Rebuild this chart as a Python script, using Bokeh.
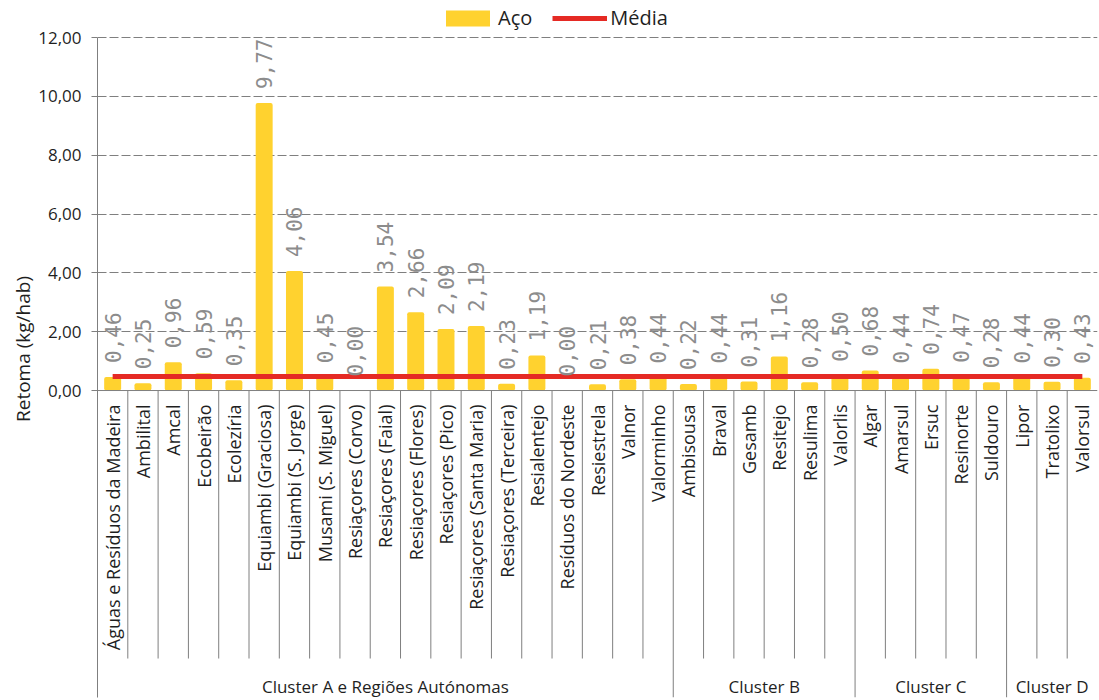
import numpy as np
from bokeh.plotting import figure
from bokeh.models import (Range1d, FixedTicker, CustomJSTickFormatter, Span, LinearAxis,
                          Legend, LegendItem, ColumnDataSource)
from bokeh.core.properties import value
from bokeh.embed import file_html
from bokeh.resources import INLINE

# ---------------- data ----------------
categories = [
    "Águas e Resíduos da Madeira", "Ambilital", "Amcal", "Ecobeirão", "Ecolezíria",
    "Equiambi (Graciosa)", "Equiambi (S. Jorge)", "Musami (S. Miguel)", "Resiaçores (Corvo)",
    "Resiaçores (Faial)", "Resiaçores (Flores)", "Resiaçores (Pico)", "Resiaçores (Santa Maria)",
    "Resiaçores (Terceira)", "Resialentejo", "Resíduos do Nordeste", "Resiestrela", "Valnor",
    "Valorminho",
    "Ambisousa", "Braval", "Gesamb", "Resitejo", "Resulima", "Valorlis",
    "Algar", "Amarsul", "Ersuc", "Resinorte", "Suldouro",
    "Lipor", "Tratolixo", "Valorsul",
]
aco = [
    0.46, 0.25, 0.96, 0.59, 0.35, 9.77, 4.06, 0.45, 0.00, 3.54, 2.66, 2.09, 2.19, 0.23,
    1.19, 0.00, 0.21, 0.38, 0.44,
    0.22, 0.44, 0.31, 1.16, 0.28, 0.50,
    0.68, 0.44, 0.74, 0.47, 0.28,
    0.44, 0.30, 0.43,
]
clusters = ["Cluster A e Regiões Autónomas", "Cluster B", "Cluster C", "Cluster D"]
cluster_sizes = [19, 6, 5, 3]
media = 0.48
y_ticks = [0, 2, 4, 6, 8, 10, 12]

# ---------------- layout helpers ----------------
n = len(categories)
xc = np.arange(n) + 0.5
Y_MAX = 13.258
Y_MIN = -10.435
SEP_END = -9.11
CLUSTER_Y = -10.06

FONT = value("Open Sans")
DARK = "#1f1f1f"
GRAY = "#7f7f7f"

p = figure(width=1099, height=700, output_backend="svg", toolbar_location=None,
           x_range=Range1d(0, n), y_range=Range1d(Y_MIN, Y_MAX),
           x_axis_location=None,
           min_border_left=97, min_border_right=2, min_border_top=0, min_border_bottom=3)
p.outline_line_color = None
p.background_fill_color = "white"

# y axis
ya = p.yaxis[0]
ya.ticker = FixedTicker(ticks=y_ticks)
ya.bounds = (Y_MIN, 12)
ya.formatter = CustomJSTickFormatter(code="return tick.toFixed(2).replace('.', ',');")
ya.axis_line_color = GRAY
ya.major_tick_line_color = GRAY
ya.major_tick_out = 6
ya.major_tick_in = 0
ya.minor_tick_line_color = None
ya.major_label_text_font = "Open Sans"
ya.major_label_text_font_size = "17px"
ya.major_label_text_color = DARK
ya.major_label_standoff = 10

# axis title on a label-only axis
title_axis = LinearAxis(ticker=FixedTicker(ticks=[]), bounds=(0, 8.7),
                        axis_label="Retoma (kg/hab)", axis_line_color=None,
                        major_tick_line_color=None, minor_tick_line_color=None,
                        major_label_text_font_size="0px",
                        axis_label_text_font="Open Sans", axis_label_text_font_size="19px",
                        axis_label_text_font_style="normal", axis_label_text_color=DARK,
                        axis_label_standoff=0)
p.add_layout(title_axis, "left")

# grid
p.xgrid.visible = False
p.ygrid.ticker = FixedTicker(ticks=[t for t in y_ticks if t > 0])
p.ygrid.grid_line_color = GRAY
p.ygrid.grid_line_dash = "9 3"
p.ygrid.grid_line_width = 1

# baseline
p.add_layout(Span(location=0, dimension="width", line_color=GRAY, line_width=1))

# bars
src = ColumnDataSource(dict(x=xc, top=aco, cat=categories,
                            lab=[f"{v:.2f}".replace(".", ",") for v in aco]))
bars = p.vbar(x="x", top="top", width=0.56, source=src, fill_color="#FFD22F",
              line_color=None, border_radius=2)

# average line
ml = p.line(x=xc, y=[media] * n, line_color="#E52A24", line_width=5)

# value labels
p.text(x="x", y="top", text="lab", source=src, angle=np.pi / 2, text_align="left",
       text_baseline="middle", y_offset=-14, text_font=value("DejaVu Sans Mono"),
       text_font_size="21px", text_color="#8c8c8c")

# category labels
p.text(x="x", y=0, text="cat", source=src, angle=np.pi / 2, text_align="right",
       text_baseline="middle", y_offset=14, text_font=FONT, text_font_size="18px",
       text_color=DARK)

# separators
bounds = np.cumsum(cluster_sizes)
cluster_bounds = set(bounds[:-1].tolist())
inner = [b for b in range(1, n) if b not in cluster_bounds]
p.segment(x0=inner, y0=[0] * len(inner), x1=inner, y1=[SEP_END] * len(inner),
          line_color=GRAY, line_width=1)
cb = sorted(cluster_bounds)
p.segment(x0=cb, y0=[0] * len(cb), x1=cb, y1=[Y_MIN] * len(cb),
          line_color=GRAY, line_width=1)

# cluster labels
starts = np.concatenate([[0], bounds[:-1]])
mids = (starts + bounds) / 2
p.text(x=mids, y=[CLUSTER_Y] * len(mids), text=clusters, text_align="center",
       text_baseline="middle", text_font=FONT, text_font_size="17px", text_color=DARK)

# legend
legend = Legend(items=[LegendItem(label="Aço", renderers=[bars]),
                       LegendItem(label="Média", renderers=[ml])],
                orientation="horizontal", location=(343, 666),
                glyph_width=55, glyph_height=20, label_standoff=3, spacing=20,
                padding=0, margin=0, label_text_font="Open Sans",
                label_text_font_size="20px", label_text_color=DARK,
                background_fill_alpha=0, border_line_color=None)
p.add_layout(legend)

open("out.html", "w").write(file_html(p, INLINE))
